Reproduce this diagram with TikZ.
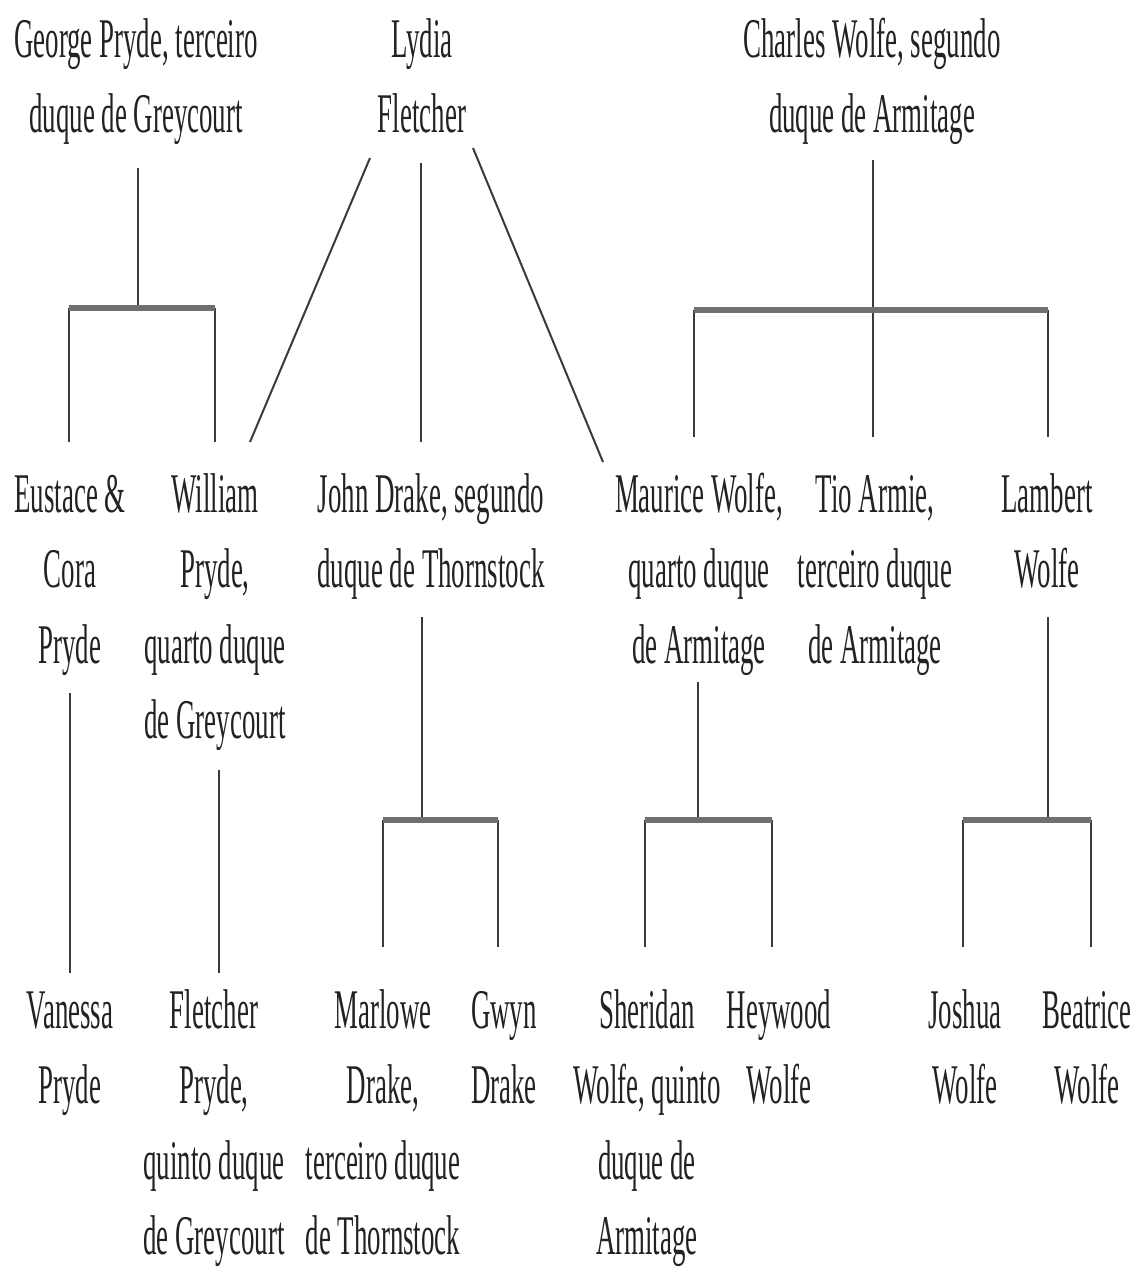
\documentclass[tikz,border=0pt]{standalone}
\usepackage{fontspec}
\setmainfont{Liberation Serif}[FakeStretch=0.48]
\definecolor{txt}{HTML}{222222}
\definecolor{lk}{HTML}{3A3A3A}
\definecolor{br}{HTML}{707070}
\tikzset{
  person/.style={align=center, inner sep=0pt, anchor=north, text=txt,
    font=\fontsize{56}{75.5}\selectfont},
  link/.style={line width=2pt, draw=lk},
  famlbar/.style={line width=5.5pt, draw=br}
}
\begin{document}
\begin{tikzpicture}[x=1pt,y=-1pt]
\useasboundingbox (0,0) rectangle (1139,1270);
% row 1
\node[person] (george)  at (136,4.2) {\strut George Pryde, terceiro\\duque de Greycourt};
\node[person] (lydia)   at (422,4.2) {\strut Lydia\\Fletcher};
\node[person] (charles) at (872,4.2) {\strut Charles Wolfe, segundo\\duque de Armitage};
% row 2
\node[person] (eustace) at (70,459.2)  {\strut Eustace \&\\Cora\\Pryde};
\node[person] (william) at (215,459.2) {\strut William\\Pryde,\\quarto duque\\de Greycourt};
\node[person] (john)    at (431,459.2) {\strut John Drake, segundo\\duque de Thornstock};
\node[person] (maurice) at (699,459.2) {\strut Maurice Wolfe,\\quarto duque\\de Armitage};
\node[person] (armie)   at (875,459.2) {\strut Tio Armie,\\terceiro duque\\de Armitage};
\node[person] (lambert) at (1047,459.2) {\strut Lambert\\Wolfe};
% row 3
\node[person] (vanessa)  at (70,975.2)   {\strut Vanessa\\Pryde};
\node[person] (fletcher) at (214,975.2)  {\strut Fletcher\\Pryde,\\quinto duque\\de Greycourt};
\node[person] (marlowe)  at (383,975.2)  {\strut Marlowe\\Drake,\\terceiro duque\\de Thornstock};
\node[person] (gwyn)     at (504,975.2)  {\strut Gwyn\\Drake};
\node[person] (sheridan) at (647,975.2)  {\strut Sheridan\\Wolfe, quinto\\duque de\\Armitage};
\node[person] (heywood)  at (779,975.2)  {\strut Heywood\\Wolfe};
\node[person] (joshua)   at (965,975.2)  {\strut Joshua\\Wolfe};
\node[person] (beatrice) at (1087,975.2) {\strut Beatrice\\Wolfe};

% George -> Eustace, William
\coordinate (gTop) at (138,168);
\coordinate (gMid) at (138,308);
\coordinate (gL) at (69,308);
\coordinate (gR) at (215,308);
\coordinate (eustaceIn) at (69,442);
\coordinate (williamIn) at (215,442);
\draw[link] (gTop) -- (gMid);
\draw[link] (gL) -- (eustaceIn);
\draw[link] (gR) -- (williamIn);
\draw[famlbar] (gL) -- (gR);

% Lydia -> William, John, Maurice
\coordinate (lyA) at (370,158);
\coordinate (lyB) at (421,163);
\coordinate (lyC) at (473,148);
\coordinate (williamIn2) at (250,442);
\coordinate (johnIn) at (421,442);
\coordinate (mauriceIn) at (603,462);
\draw[link] (lyA) -- (williamIn2);
\draw[link] (lyB) -- (johnIn);
\draw[link] (lyC) -- (mauriceIn);

% Charles -> Maurice, Armie, Lambert
\coordinate (cTop) at (873,160);
\coordinate (cMid) at (873,310);
\coordinate (cL) at (694,310);
\coordinate (cR) at (1048,310);
\coordinate (armieIn) at (873,437);
\coordinate (mauriceIn2) at (694,437);
\coordinate (lambertIn) at (1048,437);
\draw[link] (cTop) -- (armieIn);
\draw[link] (cL) -- (mauriceIn2);
\draw[link] (cR) -- (lambertIn);
\draw[famlbar] (cL) -- (cR);

% Eustace -> Vanessa, William -> Fletcher
\coordinate (eOut) at (70,693);
\coordinate (vanessaIn) at (70,973);
\coordinate (wOut) at (219,770);
\coordinate (fletcherIn) at (219,973);
\draw[link] (eOut) -- (vanessaIn);
\draw[link] (wOut) -- (fletcherIn);

% John -> Marlowe, Gwyn
\coordinate (jOut) at (422,617);
\coordinate (jMid) at (422,820);
\coordinate (jL) at (383,820);
\coordinate (jR) at (498,820);
\coordinate (marloweIn) at (383,947);
\coordinate (gwynIn) at (498,947);
\draw[link] (jOut) -- (jMid);
\draw[link] (jL) -- (marloweIn);
\draw[link] (jR) -- (gwynIn);
\draw[famlbar] (jL) -- (jR);

% Maurice -> Sheridan, Heywood
\coordinate (mOut) at (698,682);
\coordinate (mMid) at (698,820);
\coordinate (mL) at (645,820);
\coordinate (mR) at (772,820);
\coordinate (sheridanIn) at (645,947);
\coordinate (heywoodIn) at (772,947);
\draw[link] (mOut) -- (mMid);
\draw[link] (mL) -- (sheridanIn);
\draw[link] (mR) -- (heywoodIn);
\draw[famlbar] (mL) -- (mR);

% Lambert -> Joshua, Beatrice
\coordinate (lOut) at (1048,617);
\coordinate (lMid) at (1048,820);
\coordinate (lL) at (963,820);
\coordinate (lR) at (1091,820);
\coordinate (joshuaIn) at (963,947);
\coordinate (beatriceIn) at (1091,947);
\draw[link] (lOut) -- (lMid);
\draw[link] (lL) -- (joshuaIn);
\draw[link] (lR) -- (beatriceIn);
\draw[famlbar] (lL) -- (lR);
\end{tikzpicture}
\end{document}
